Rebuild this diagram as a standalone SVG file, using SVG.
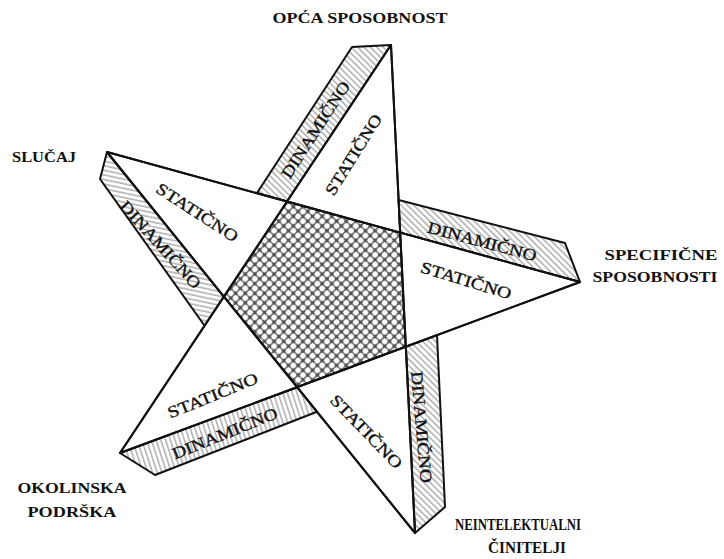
<svg xmlns="http://www.w3.org/2000/svg" width="724" height="559" viewBox="0 0 724 559">
<defs>
<pattern id="h45" patternUnits="userSpaceOnUse" width="4.5" height="4.5" patternTransform="rotate(45)"><rect width="4.5" height="4.5" fill="#fff"/><line x1="0" y1="1" x2="4.5" y2="1" stroke="#9a9a9a" stroke-width="1.2"/></pattern>
<pattern id="h15" patternUnits="userSpaceOnUse" width="4.5" height="4.5" patternTransform="rotate(12)"><rect width="4.5" height="4.5" fill="#fff"/><line x1="0" y1="1" x2="4.5" y2="1" stroke="#9a9a9a" stroke-width="1.2"/></pattern>
<pattern id="h70" patternUnits="userSpaceOnUse" width="4.5" height="4.5" patternTransform="rotate(72)"><rect width="4.5" height="4.5" fill="#fff"/><line x1="0" y1="1" x2="4.5" y2="1" stroke="#9a9a9a" stroke-width="1.2"/></pattern>
<pattern id="cross" patternUnits="userSpaceOnUse" width="6.8" height="6.8" patternTransform="rotate(45)"><rect width="6.8" height="6.8" fill="#555"/><circle cx="3.4" cy="3.4" r="2.8" fill="#fff"/></pattern>
<style>
.ln{stroke:#111;stroke-width:2;fill:none;stroke-linejoin:round}
.tri{fill:#fff;stroke:#111;stroke-width:2;stroke-linejoin:round}
.band{stroke:#111;stroke-width:2;stroke-linejoin:round}
.t{font-family:"Liberation Serif","Times New Roman",serif;font-size:16.5px;fill:#111;stroke:#111;stroke-width:0.35;text-anchor:middle}
.o{font-family:"Liberation Serif","Times New Roman",serif;font-size:15px;font-weight:bold;fill:#111;text-anchor:middle}
</style>
</defs>
<rect width="724" height="559" fill="#fff"/>

<g id="center">
<polygon points="287,201.5 400.2,232.6 405.8,346.7 297.1,387.2 223.9,296.6" fill="url(#cross)" stroke="#111" stroke-width="2"/>
</g>

<g id="point-top">
<polygon class="band" points="352,47 391,45 287,201.5 257,193" fill="url(#h45)"/>
<polygon class="tri" points="391,45 287,201.5 400.2,232.6"/>
<text class="t" transform="translate(354,155) rotate(-58)" textLength="92" lengthAdjust="spacingAndGlyphs" dy="5">STATIČNO</text>
<text class="t" transform="translate(316,130) rotate(-57)" textLength="112" lengthAdjust="spacingAndGlyphs" dy="5">DINAMIČNO</text>
</g>

<g id="point-left">
<polygon class="band" points="107,152 100,179 205.5,327 223.9,296.6" fill="url(#h15)"/>
<polygon class="tri" points="107,152 287,201.5 223.9,296.6"/>
<text class="t" transform="translate(197,213) rotate(33)" textLength="94" lengthAdjust="spacingAndGlyphs" dy="5">STATIČNO</text>
<text class="t" transform="translate(160,245) rotate(48)" textLength="112" lengthAdjust="spacingAndGlyphs" dy="5">DINAMIČNO</text>
</g>

<g id="point-right">
<polygon class="band" points="398.6,200 565,243 580,282 400.2,232.6" fill="url(#h45)"/>
<polygon class="tri" points="580,282 400.2,232.6 405.8,346.7"/>
<text class="t" transform="translate(466,281) rotate(17)" textLength="94" lengthAdjust="spacingAndGlyphs" dy="5">STATIČNO</text>
<text class="t" transform="translate(482,242) rotate(15)" textLength="112" lengthAdjust="spacingAndGlyphs" dy="5">DINAMIČNO</text>
</g>

<g id="point-bottom-right">
<polygon class="band" points="405.8,346.7 437,335.2 445,507 415,533" fill="url(#h45)"/>
<polygon class="tri" points="415,533 405.8,346.7 297.1,387.2"/>
<text class="t" transform="translate(366,432) rotate(46)" textLength="96" lengthAdjust="spacingAndGlyphs" dy="5">STATIČNO</text>
<text class="t" transform="translate(421,427) rotate(85)" textLength="112" lengthAdjust="spacingAndGlyphs" dy="5">DINAMIČNO</text>
</g>

<g id="point-bottom-left">
<polygon class="band" points="120,453 155,475 317,411.8 297.1,387.2" fill="url(#h70)"/>
<polygon class="tri" points="120,453 297.1,387.2 223.9,296.6"/>
<text class="t" transform="translate(213,396) rotate(-22)" textLength="96" lengthAdjust="spacingAndGlyphs" dy="5">STATIČNO</text>
<text class="t" transform="translate(225,434) rotate(-22)" textLength="112" lengthAdjust="spacingAndGlyphs" dy="5">DINAMIČNO</text>
</g>

<g id="connectors">
<line class="ln" x1="107" y1="152" x2="580" y2="282"/>
<line class="ln" x1="391" y1="45" x2="415" y2="533"/>
<line class="ln" x1="580" y1="282" x2="120" y2="453"/>
<line class="ln" x1="107" y1="152" x2="415" y2="533"/>
<line class="ln" x1="391" y1="45" x2="120" y2="453"/>
</g>

<g id="label-top"><text class="o" x="360" y="23" textLength="175" lengthAdjust="spacingAndGlyphs">OPĆA SPOSOBNOST</text></g>
<g id="label-left"><text class="o" x="44" y="162" textLength="64" lengthAdjust="spacingAndGlyphs">SLUČAJ</text></g>
<g id="label-right"><text class="o" x="661" y="260" textLength="113" lengthAdjust="spacingAndGlyphs">SPECIFIČNE</text><text class="o" x="655" y="282" textLength="125" lengthAdjust="spacingAndGlyphs">SPOSOBNOSTI</text></g>
<g id="label-bottom-left"><text class="o" x="72" y="493" textLength="109" lengthAdjust="spacingAndGlyphs">OKOLINSKA</text><text class="o" x="72" y="517" textLength="89" lengthAdjust="spacingAndGlyphs">PODRŠKA</text></g>
<g id="label-bottom-right"><text class="o" x="518" y="530" textLength="126" lengthAdjust="spacingAndGlyphs" style="font-size:16px">NEINTELEKTUALNI</text><text class="o" x="527" y="553" textLength="78" lengthAdjust="spacingAndGlyphs" style="font-size:16px">ČINITELJI</text></g>
</svg>
